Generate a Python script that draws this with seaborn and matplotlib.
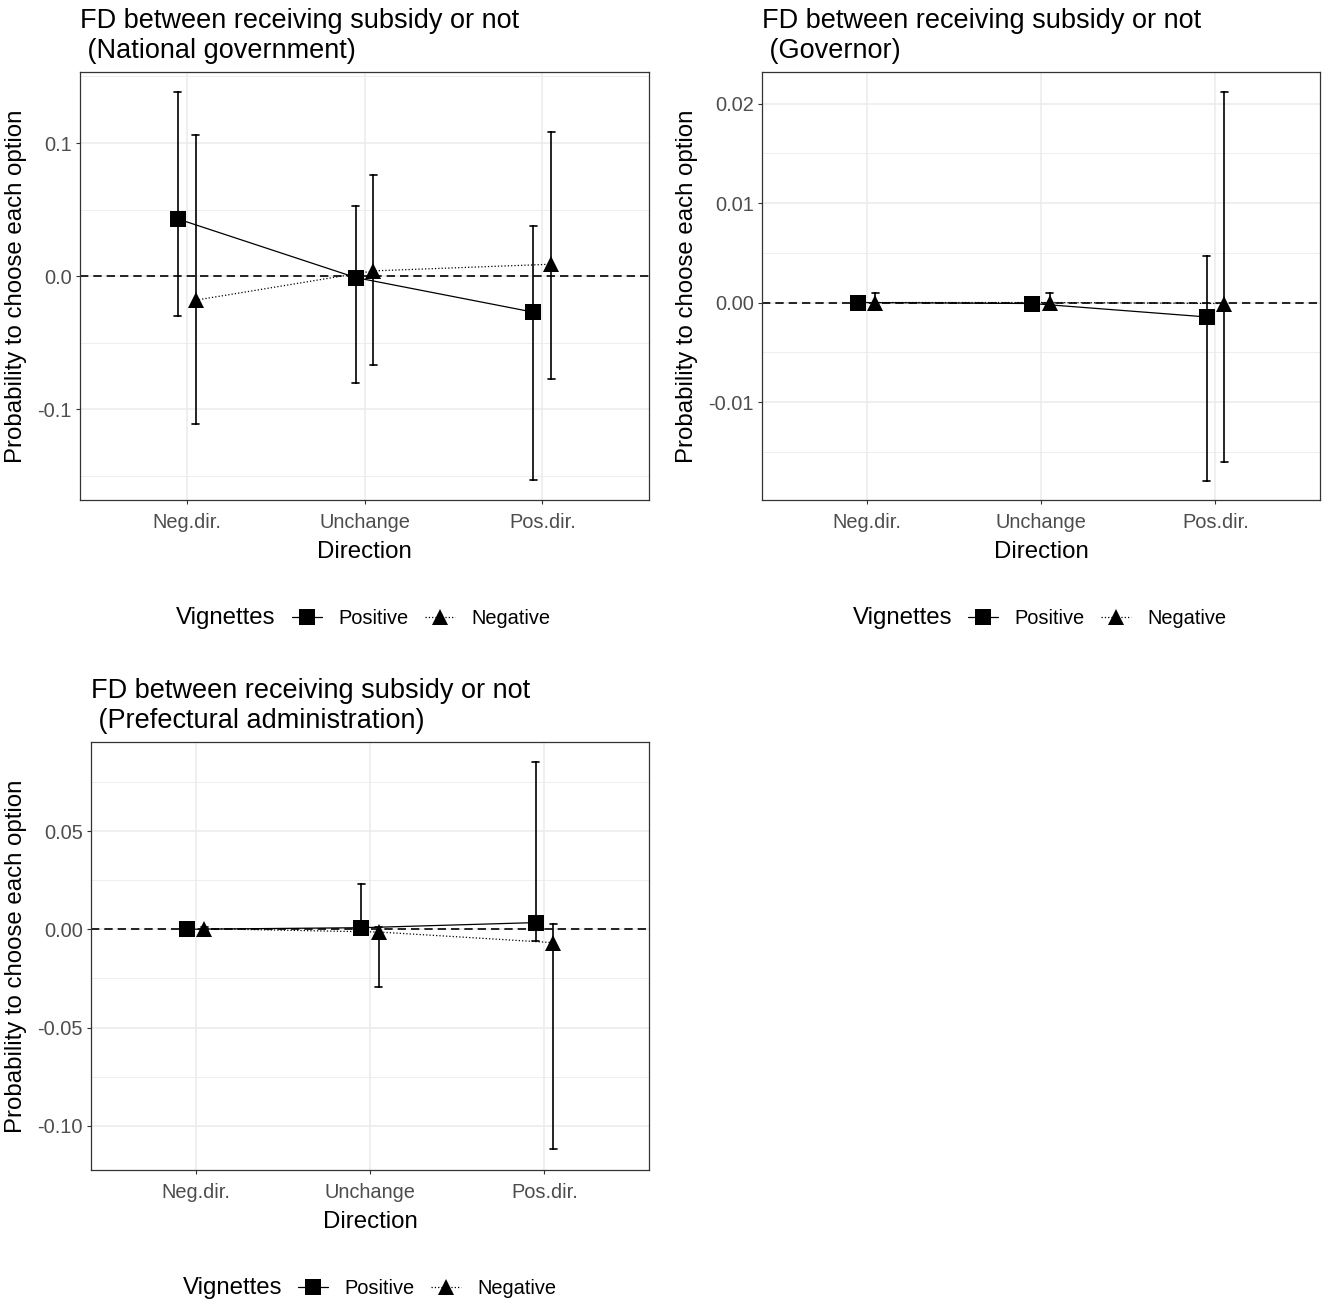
import matplotlib
matplotlib.use("Agg")
import numpy as np
import pandas as pd
import matplotlib.pyplot as plt
import seaborn as sns
from matplotlib.lines import Line2D
from matplotlib.ticker import AutoMinorLocator, FixedLocator, FuncFormatter

directions = ["Neg.dir.", "Unchange", "Pos.dir."]
vignettes = ["Positive", "Negative"]

# National government: estimate, lower and upper CI per direction
nat_pos_est = [0.043, -0.001, -0.027]
nat_pos_lo = [-0.030, -0.080, -0.153]
nat_pos_hi = [0.138, 0.053, 0.038]
nat_neg_est = [-0.018, 0.004, 0.009]
nat_neg_lo = [-0.111, -0.067, -0.077]
nat_neg_hi = [0.106, 0.076, 0.108]

# Governor
gov_pos_est = [0.0, -0.0001, -0.00145]
gov_pos_lo = [-0.0002, -0.0002, -0.0179]
gov_pos_hi = [0.0002, 0.0002, 0.00465]
gov_neg_est = [0.0, 0.0, -0.0001]
gov_neg_lo = [-0.0004, -0.0004, -0.0160]
gov_neg_hi = [0.0010, 0.0010, 0.0212]

# Prefectural administration
pref_pos_est = [0.0, 0.0008, 0.0034]
pref_pos_lo = [-0.0005, -0.002, -0.0059]
pref_pos_hi = [0.0005, 0.0228, 0.085]
pref_neg_est = [0.0003, -0.0014, -0.0068]
pref_neg_lo = [-0.0005, -0.0296, -0.1118]
pref_neg_hi = [0.0010, 0.0010, 0.0025]

titles = [
    "FD between receiving subsidy or not\n (National government)",
    "FD between receiving subsidy or not\n (Governor)",
    "FD between receiving subsidy or not\n (Prefectural administration)",
]
ylims = [(-0.168, 0.1533), (-0.01985, 0.02317), (-0.1225, 0.0953)]
yticks = [[-0.1, 0.0, 0.1], [-0.01, 0.0, 0.01, 0.02], [-0.10, -0.05, 0.0, 0.05]]
ydec = [1, 2, 2]


def long_table(pos, neg):
    # three rows per point (lo, est, hi): median gives the estimate, full range gives the CI
    rows = []
    for vig, (est, lo, hi) in zip(vignettes, [pos, neg]):
        for d, e, l, h in zip(directions, est, lo, hi):
            for v in (l, e, h):
                rows.append({"Direction": d, "Vignettes": vig, "value": v})
    return pd.DataFrame(rows)


tables = [
    long_table((nat_pos_est, nat_pos_lo, nat_pos_hi), (nat_neg_est, nat_neg_lo, nat_neg_hi)),
    long_table((gov_pos_est, gov_pos_lo, gov_pos_hi), (gov_neg_est, gov_neg_lo, gov_neg_hi)),
    long_table((pref_pos_est, pref_pos_lo, pref_pos_hi), (pref_neg_est, pref_neg_lo, pref_neg_hi)),
]

sns.set_theme(style="white")
plt.rcParams["font.family"] = ["Liberation Sans", "DejaVu Sans"]
plt.rcParams["axes.unicode_minus"] = False
plt.rcParams["text.color"] = "black"
plt.rcParams["axes.labelcolor"] = "black"

W, H = 1325, 1307
fig = plt.figure(figsize=(W / 100, H / 100), dpi=100)

# panel boxes in pixels: left, top, right, bottom
boxes = [(80, 72, 649, 500), (762, 72, 1320, 500), (91, 742, 649, 1170)]
ylab_x = [27, 698, 27]
leg_x = [(275, 292), (952, 968), (282, 298)]
leg_y = [618, 618, 1288]

for i, df in enumerate(tables):
    l, t, r, b = boxes[i]
    ax = fig.add_axes([l / W, 1 - b / H, (r - l) / W, (b - t) / H])
    ax.axhline(0, color="black", lw=1.2, ls=(0, (5, 3)), zorder=1.5)
    sns.pointplot(
        data=df, x="Direction", y="value", hue="Vignettes",
        order=directions, hue_order=vignettes,
        estimator="median", errorbar=("pi", 100),
        dodge=0.1, markers=["s", "^"], linestyles=["-", ":"],
        palette=["black", "black"], capsize=0.04,
        err_kws={"linewidth": 1.2}, linewidth=0.9,
        markersize=11, markeredgewidth=0,
        legend=False, ax=ax,
    )
    ax.set_xlim(-0.6, 2.6)
    ax.set_ylim(*ylims[i])
    ax.yaxis.set_major_locator(FixedLocator(yticks[i]))
    ax.yaxis.set_minor_locator(AutoMinorLocator(2))
    dec = ydec[i]
    ax.yaxis.set_major_formatter(FuncFormatter(lambda v, p, dec=dec: f"{v:.{dec}f}"))
    ax.set_axisbelow(True)
    ax.grid(which="major", color="#EBEBEB", lw=1.1)
    ax.grid(which="minor", axis="y", color="#EBEBEB", lw=0.6)
    for s in ax.spines.values():
        s.set_color("#333333")
        s.set_linewidth(0.9)
    ax.tick_params(which="major", axis="both", direction="out", length=3, width=0.8,
                   color="#333333", labelsize=14.4, labelcolor="#4D4D4D", pad=3,
                   bottom=True, left=True)
    ax.tick_params(which="major", axis="x", pad=6)
    ax.tick_params(which="minor", length=0)
    ax.set_xlabel("Direction", fontsize=17.3, color="black", labelpad=7)
    ax.set_ylabel("Probability to choose each option", fontsize=17.3, color="black")
    ax.yaxis.set_label_coords((ylab_x[i] - l) / (r - l), 0.5)
    ax.set_title(titles[i], loc="left", fontsize=19.5, pad=10, linespacing=1.2, color="black")

    tx, hx = leg_x[i]
    ly = (b - leg_y[i]) / (b - t)
    ax.text((tx - l) / (r - l), ly, "Vignettes", transform=ax.transAxes,
            ha="right", va="center", fontsize=17.3)
    handles = [
        Line2D([], [], color="black", marker="s", ls="-", lw=0.9, markersize=11, markeredgewidth=0),
        Line2D([], [], color="black", marker="^", ls=":", lw=0.9, markersize=11, markeredgewidth=0),
    ]
    ax.legend(handles, vignettes, loc="center left", bbox_to_anchor=((hx - l) / (r - l), ly),
              ncol=2, frameon=False, fontsize=14.4, borderaxespad=0, borderpad=0,
              handlelength=1.5, handletextpad=0.8, columnspacing=0.85)

fig.savefig("out.png", dpi=100, facecolor="white")
